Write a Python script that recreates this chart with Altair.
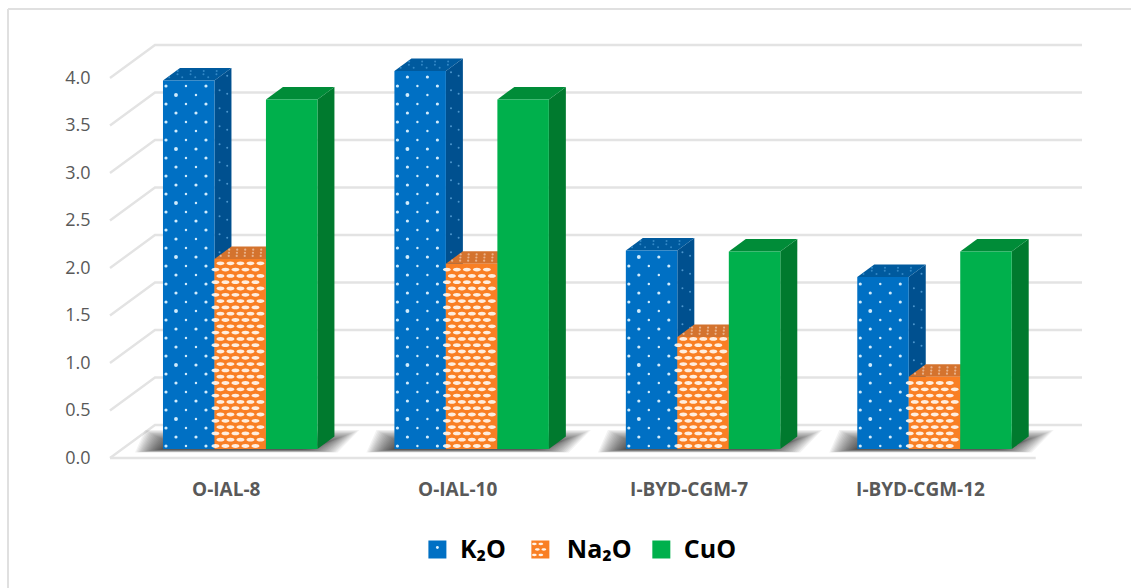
import altair as alt
import pandas as pd

# Measured oxide contents per sample
categories = ["O-IAL-8", "O-IAL-10", "I-BYD-CGM-7", "I-BYD-CGM-12"]
series = ["K₂O", "Na₂O", "CuO"]
k2o = [3.88, 3.98, 2.09, 1.81]
na2o = [2.00, 1.95, 1.18, 0.76]
cuo = [3.68, 3.68, 2.08, 2.08]
values = {"K₂O": k2o, "Na₂O": na2o, "CuO": cuo}
y_ticks = [0.0, 0.5, 1.0, 1.5, 2.0, 2.5, 3.0, 3.5, 4.0]

front = {"K₂O": "#0070C4", "Na₂O": "#F97F24", "CuO": "#00B04C"}
side = {"K₂O": "#00508F", "Na₂O": "#C96A28", "CuO": "#007A2E"}
top = {"K₂O": "#005A9E", "Na₂O": "#D4732E", "CuO": "#008C38"}

# Pixel sizes of the projected box, turned into data units
PX_X, PX_Y = 231.5, 95.0
WALL_DX, WALL_DY = 45 / PX_X, 33 / PX_Y
BAR_W = 51.5 / PX_X
BAR_DX, BAR_DY = 17 / PX_X, 12.5 / PX_Y
BASE = 9 / PX_Y
LEFT = 53 / PX_X


def bar_left(group, s):
    return group + LEFT + series.index(s) * BAR_W


def px_x(px):
    return (px - 110) / PX_X


def px_y(px):
    return (458 - px) / PX_Y


# Slanted floor edge and back-wall line for every gridline level
grid_rows = []
for t in y_ticks:
    grid_rows += [
        {"level": t, "i": 0, "x": 0, "y": t},
        {"level": t, "i": 1, "x": WALL_DX, "y": t + WALL_DY},
        {"level": t, "i": 2, "x": 4.2, "y": t + WALL_DY},
    ]
floor_rows = [
    {"i": 0, "x": 0, "y": 0},
    {"i": 1, "x": 4.0, "y": 0},
]
grid = alt.Chart(pd.DataFrame(grid_rows)).mark_line(color="#E3E3E3", strokeWidth=2.4).encode(
    x=alt.X("x:Q", scale=alt.Scale(domain=[0, 4.2], nice=False, zero=False),
            axis=alt.Axis(values=[0.5, 1.5, 2.5, 3.5], title=None, grid=False, domain=False, ticks=False,
                          labelExpr="['O-IAL-8','O-IAL-10','I-BYD-CGM-7','I-BYD-CGM-12'][floor(datum.value)]",
                          labelFont="Open Sans", labelFontWeight="bold", labelFontSize=19,
                          labelColor="#595959", labelPadding=22)),
    y=alt.Y("y:Q", scale=alt.Scale(domain=[0, 413 / PX_Y], nice=False, zero=False),
            axis=alt.Axis(values=y_ticks, format=".1f", title=None, grid=False, domain=False, ticks=False,
                          labelFont="Open Sans", labelFontSize=18, labelColor="#595959", labelPadding=20)),
    detail="level:N",
    order="i:Q",
)
floor = alt.Chart(pd.DataFrame(floor_rows)).mark_line(color="#E3E3E3", strokeWidth=2.4).encode(
    x="x:Q", y="y:Q", order="i:Q")

# Soft floor shadow: many nested translucent parallelograms around each group
shadow_rows = []
STEPS = 20
for g in range(len(categories)):
    x0 = g + LEFT
    x1 = x0 + 3 * BAR_W
    for k in range(STEPS):
        grow = (STEPS - 1 - k) / (STEPS - 1)
        left = x0 - (2 + 26 * grow) / PX_X
        right = x1 + (6 + 36 * grow) / PX_X
        y_low = BASE - (0.5 + 3 * grow) / PX_Y
        y_high = BASE + (5 + 14 * grow) / PX_Y
        shadow_rows += [
            {"g": g, "k": k, "y": y_low, "xa": left, "xb": right - 22 / PX_X},
            {"g": g, "k": k, "y": y_high, "xa": left + 10 / PX_X, "xb": right},
        ]
shadow = alt.Chart(pd.DataFrame(shadow_rows)).mark_area(
    orient="horizontal", color="#000000", opacity=0.05, interpolate="linear"
).encode(
    y="y:Q", x="xa:Q", x2="xb:Q", detail="id:N"
).transform_calculate(id="datum.g + '-' + datum.k")


def face_tables(s):
    side_rows, top_rows, front_rows = [], [], []
    for g, v in enumerate(values[s]):
        xl = bar_left(g, s)
        xr = xl + BAR_W
        h = BASE + v
        front_rows.append({"series": s, "x": xl, "x2": xr, "y": BASE, "y2": h})
        side_rows += [
            {"g": g, "x": xr, "y": h, "y2": BASE},
            {"g": g, "x": xr + BAR_DX, "y": h + BAR_DY, "y2": BASE + BAR_DY},
        ]
        top_rows += [
            {"g": g, "y": h, "xa": xl, "xb": xr},
            {"g": g, "y": h + BAR_DY, "xa": xl + BAR_DX, "xb": xr + BAR_DX},
        ]
    return pd.DataFrame(side_rows), pd.DataFrame(top_rows), pd.DataFrame(front_rows)


def dot_table(s, col_step, row_step, inset):
    """Staggered lattice covering the front face of each bar of a series."""
    rows = []
    for g, v in enumerate(values[s]):
        xl = bar_left(g, s)
        r = 0
        while r * row_step + 3 < v * PX_Y:
            offset = inset + (col_step / 2 if r % 2 else 0)
            c = 0
            while offset + c * col_step < 51.5 - 2:
                rows.append({
                    "x": xl + (offset + c * col_step) / PX_X,
                    "y": BASE + (r * row_step + 3) / PX_Y,
                    "s": 15 if (r % 6 == 3 and c % 2 == 0) else (10 if c % 2 == 0 or r % 4 == 1 else 6),
                })
                c += 1
            r += 1
    return pd.DataFrame(rows)


def side_dots(s, row_step):
    rows = []
    for g, v in enumerate(values[s]):
        xr = bar_left(g, s) + BAR_W
        r = 0
        while r * row_step + 6 < v * PX_Y:
            frac = 0.3 if r % 2 else 0.75
            rows.append({"x": xr + frac * BAR_DX, "y": BASE + frac * BAR_DY + (r * row_step + 4) / PX_Y})
            r += 1
    return pd.DataFrame(rows)


def top_dots(s, col_step):
    rows = []
    for g, v in enumerate(values[s]):
        xl = bar_left(g, s)
        for frac in [0.25, 0.5, 0.75]:
            c = 0
            while c * col_step < 46:
                rows.append({
                    "x": xl + frac * BAR_DX + (c * col_step + (6 if frac == 0.5 else 2)) / PX_X,
                    "y": BASE + v + frac * BAR_DY,
                })
                c += 1
    return pd.DataFrame(rows)


ellipse = "M-1,0 A1,0.48 0 1,1 1,0 A1,0.48 0 1,1 -1,0 Z"
color_scale = alt.Scale(domain=series, range=[front[s] for s in series])

layers = [grid, floor, shadow]
for s in series:
    st, tp, fr = face_tables(s)
    layers.append(alt.Chart(st).mark_area(color=side[s], interpolate="linear").encode(
        x="x:Q", y="y:Q", y2="y2:Q", detail="g:N"))
    layers.append(alt.Chart(tp).mark_area(orient="horizontal", color=top[s], interpolate="linear").encode(
        y="y:Q", x="xa:Q", x2="xb:Q", detail="g:N"))
    if s == "K₂O":
        layers.append(alt.Chart(side_dots(s, 9)).mark_point(filled=True, size=4, color="#5FA8DC", opacity=0.8).encode(
            x="x:Q", y="y:Q"))
        layers.append(alt.Chart(top_dots(s, 13)).mark_point(filled=True, size=4, color="#3F93D0", opacity=0.8).encode(
            x="x:Q", y="y:Q"))
    if s == "Na₂O":
        layers.append(alt.Chart(top_dots(s, 8)).mark_point(filled=True, size=5, color="#EFC3A2", opacity=0.8).encode(
            x="x:Q", y="y:Q"))
    layers.append(alt.Chart(fr).mark_rect().encode(
        x="x:Q", x2="x2:Q", y="y:Q", y2="y2:Q",
        color=alt.Color("series:N", scale=color_scale, legend=None),
    ))
    if s == "K₂O":
        layers.append(alt.Chart(dot_table(s, 20, 9, 3)).mark_point(filled=True, color="#DCF2FF", opacity=0.95).encode(
            x="x:Q", y="y:Q", size=alt.Size("s:Q", scale=None, legend=None)))
    if s == "Na₂O":
        layers.append(alt.Chart(dot_table(s, 10, 6.3, 1)).mark_point(
            filled=True, shape=ellipse, size=64, color="#FFF4EA", opacity=0.95
        ).encode(x="x:Q", y="y:Q"))

# Key below the axis: textured swatches with their labels
swatch_px = {"K₂O": 437.5, "Na₂O": 540.5, "CuO": 661.5}
label_px = {"K₂O": 460, "Na₂O": 567, "CuO": 684}
swatch_y, label_y = 549.5, 558
key = pd.DataFrame(
    [{"series": s, "x": px_x(swatch_px[s]), "y": px_y(swatch_y),
      "tx": px_x(label_px[s]), "ty": px_y(label_y)} for s in series]
)
swatch_dots = pd.DataFrame(
    [{"x": px_x(swatch_px["Na₂O"] - 6 + 6.5 * c + (3 if r % 2 else 0)),
      "y": px_y(swatch_y - 5.5 + r * 5.5)} for r in range(3) for c in range(2)]
)
blue_dot = pd.DataFrame([{"x": px_x(swatch_px["K₂O"]), "y": px_y(swatch_y - 2)}])
layers.append(alt.Chart(key).mark_point(filled=True, shape="square", size=324, opacity=1).encode(
    x="x:Q", y="y:Q",
    color=alt.Color("series:N", scale=color_scale, legend=None)))
layers.append(alt.Chart(swatch_dots).mark_point(filled=True, shape=ellipse, size=22, color="#FFF4EA", opacity=1).encode(
    x="x:Q", y="y:Q"))
layers.append(alt.Chart(blue_dot).mark_point(filled=True, size=8, color="#DCF2FF", opacity=1).encode(
    x="x:Q", y="y:Q"))
layers.append(alt.Chart(key).mark_text(
    align="left", baseline="alphabetic", font="Open Sans", fontWeight="bold", fontSize=25, color="#000000"
).encode(x="tx:Q", y="ty:Q", text="series:N"))

# Grey border along the top and left of the figure
layers.append(alt.Chart(pd.DataFrame({"a": [0]})).mark_rule(color="#E0E0E0", strokeWidth=2).encode(
    x=alt.value(-102), y=alt.value(-36), y2=alt.value(543)))
layers.append(alt.Chart(pd.DataFrame({"a": [0]})).mark_rule(color="#E0E0E0", strokeWidth=2).encode(
    x=alt.value(-102), x2=alt.value(1021), y=alt.value(-36)))

chart = alt.layer(*layers).properties(
    width=972,
    height=413,
    padding={"left": 110, "top": 45, "right": 49, "bottom": 130},
    autosize=alt.AutoSizeParams(type="none"),
    background="#FFFFFF",
).configure_view(stroke=None)

chart.save("out.html", embed_options={"renderer": "svg", "actions": False})
